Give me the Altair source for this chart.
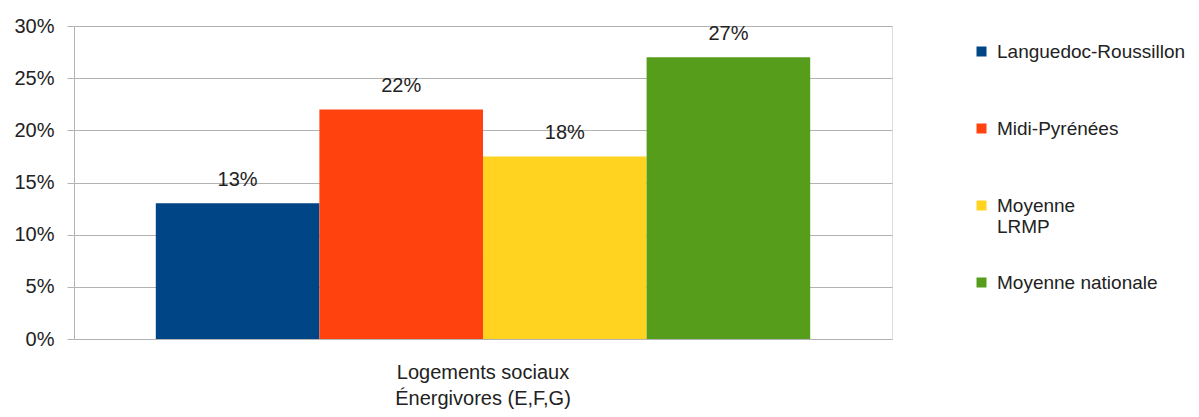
import altair as alt
import pandas as pd

category = "Logements sociaux\nÉnergivores (E,F,G)"
series = ["Languedoc-Roussillon", "Midi-Pyrénées", "Moyenne LRMP", "Moyenne nationale"]
values = [0.13, 0.22, 0.175, 0.27]
labels = ["13%", "22%", "18%", "27%"]
colors = ["#004586", "#ff420e", "#ffd320", "#579d1c"]

df = pd.DataFrame({
    "categorie": [category] * len(series),
    "serie": series,
    "valeur": values,
    "etiquette": labels,
})

FONT = "Liberation Sans"

x = alt.X(
    "categorie:N",
    title=None,
    scale=alt.Scale(paddingInner=0.2, paddingOuter=0.1),
    axis=alt.Axis(
        labelExpr="split(datum.label, '\\n')",
        labelAngle=0,
        labelFontSize=20,
        labelFont=FONT,
        labelColor="#222222",
        labelPadding=23,
        labelLineHeight=26,
        ticks=False,
        domain=False,
        grid=False,
    ),
)
xoff = alt.XOffset("serie:N", sort=series, scale=alt.Scale(paddingInner=0, paddingOuter=0))

bars = alt.Chart(df).mark_bar().encode(
    x=x,
    xOffset=xoff,
    y=alt.Y(
        "valeur:Q",
        title=None,
        scale=alt.Scale(domain=[0, 0.3], nice=False),
        axis=alt.Axis(
            values=[0, 0.05, 0.1, 0.15, 0.2, 0.25, 0.3],
            format=".0%",
            labelFontSize=20,
            labelFont=FONT,
            labelColor="#222222",
            labelPadding=13,
            tickSize=7,
            tickColor="#b3b3b3",
            gridColor="#b3b3b3",
            domainColor="#b3b3b3",
        ),
    ),
    color=alt.Color(
        "serie:N",
        sort=series,
        scale=alt.Scale(domain=series, range=colors),
        legend=alt.Legend(
            title=None,
            orient="none",
            legendX=898,
            legendY=16,
            symbolType="square",
            symbolSize=100,
            symbolStrokeWidth=0,
            labelFontSize=19,
            labelFont=FONT,
            labelColor="#222222",
            labelLimit=300,
            labelOffset=6,
            gridAlign="all",
            rowPadding=36,
            labelExpr="datum.label == 'Moyenne LRMP' ? ['Moyenne', 'LRMP'] : datum.label",
        ),
    ),
)

text = alt.Chart(df).mark_text(
    baseline="bottom", dy=-13, fontSize=20, font=FONT, color="#222222"
).encode(
    x=x,
    xOffset=xoff,
    y="valeur:Q",
    text="etiquette:N",
)

chart = (
    alt.layer(bars, text)
    .properties(
        width=818,
        height=313,
        autosize=alt.AutoSizeParams(type="none"),
        padding={"left": 66, "top": 18, "right": 299, "bottom": 70},
    )
    .configure_view(stroke="#b3b3b3", strokeWidth=1)
    .configure(background="white")
)

chart.save("out.html", embed_options={"renderer": "svg", "actions": False})
